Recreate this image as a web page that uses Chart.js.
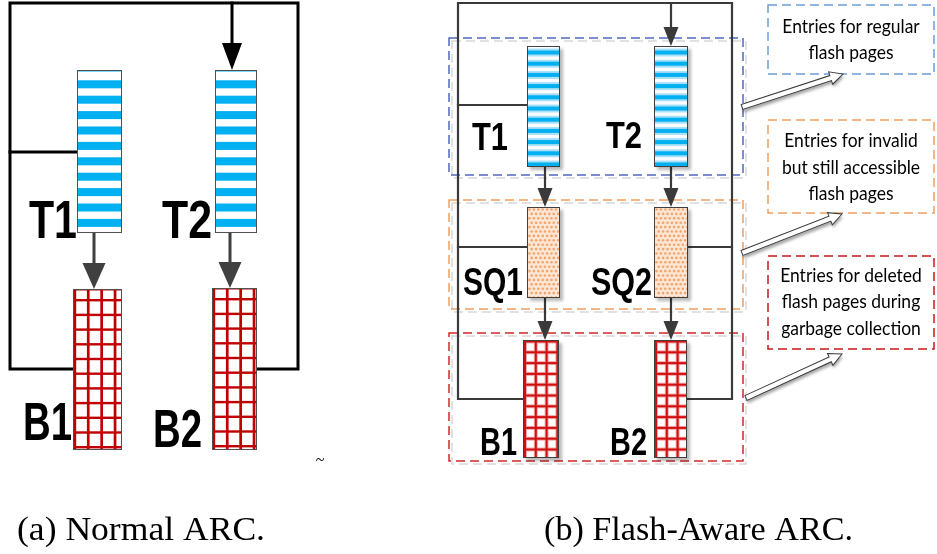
<!DOCTYPE html>
<html>
<head>
<meta charset="utf-8">
<script src="https://cdn.jsdelivr.net/npm/chart.js@4/dist/chart.umd.min.js"></script>
<style>
  html, body { margin: 0; padding: 0; background: #ffffff; }
  #wrap { position: relative; width: 937px; height: 554px; }
</style>
</head>
<body>
<div id="wrap"><canvas id="c"></canvas></div>
<script>
// ---------------- DATA (diagram content) ----------------
const captions = ['(a) Normal ARC.', '(b) Flash-Aware ARC.'];
const captionBoxes = [[17, 517, 265, 540], [544, 517, 853, 540]];

// queue labels: text, and [x0, capTop, x1, baseline]
const labelsA = ['T1', 'T2', 'B1', 'B2'];
const labelBoxesA = [[29, 200, 77, 238], [162, 200, 212, 238], [23, 401, 72, 440], [153, 408, 202, 447]];
const labelsB = ['T1', 'T2', 'SQ1', 'SQ2', 'B1', 'B2'];
const labelBoxesB = [[472, 122, 508, 150], [606, 121, 642, 148], [463, 267, 523, 295], [591, 267, 652, 295], [480, 427, 517, 455], [610, 427, 647, 455]];

// queue boxes [x0, y0, x1, y1] and fill kinds
const queueKindsA = ['stripe', 'stripe', 'grid', 'grid'];
const queueBoxesA = [[77, 70, 122, 233], [215, 70, 257, 233], [73, 289, 122, 450], [212, 288, 257, 450]];
const queueKindsB = ['stripe', 'stripe', 'dots', 'dots', 'grid', 'grid'];
const queueBoxesB = [[527, 46, 560, 167], [654, 46, 688, 167], [527, 207, 560, 298], [654, 207, 688, 298], [523, 340, 559, 458], [654, 340, 687, 458]];

// connector polylines
const linesA = [
  [[73, 369], [10, 369], [10, 3], [298, 3], [298, 369], [257, 369]],
  [[10, 152], [77, 152]]
];
const flowLinesA = [
  [[232, 3], [232, 50]]
];
const dropLinesA = [
  [[94, 233], [94, 266]],
  [[230, 233], [230, 266]]
];
const linesB = [
  [[523, 399], [458, 399], [458, 3], [732, 3], [732, 399], [687, 399]],
  [[458, 105], [527, 105]],
  [[458, 247], [527, 247]],
  [[688, 247], [732, 247]],
  [[671, 3], [671, 30]],
  [[545, 167], [545, 192]],
  [[671, 167], [671, 192]],
  [[545, 298], [545, 325]],
  [[671, 298], [671, 325]]
];
// arrow heads: tip [x, y], width, height
const headsA = [[232, 70, 20, 27], [94, 289, 23, 26], [230, 288, 23, 26]];
const headKindsA = ['black', 'gray', 'gray'];
const headsB = [[671, 46, 15, 19], [545, 207, 15, 19], [671, 207, 15, 19], [545, 340, 15, 19], [671, 340, 15, 19]];

// dashed group regions (panel b)
const regionNames = ['regular', 'invalid', 'deleted'];
const regionBoxes = [[449, 38, 743, 175], [449, 200, 743, 309], [449, 333, 743, 461]];

// note boxes + texts
const noteBoxes = [[768, 5, 934, 74], [768, 120, 934, 213], [768, 256, 934, 349]];
const noteTexts = [
  ['Entries for regular', 'flash pages'],
  ['Entries for invalid', 'but still accessible', 'flash pages'],
  ['Entries for deleted', 'flash pages during', 'garbage collection']
];
const noteBaselines = [[33, 59], [147, 174, 200], [282, 308, 335]];
// hollow pointer arrows: from [x,y] to [x,y]
const pointers = [[[742, 107], [843, 74]], [[742, 253], [842, 214]], [[746, 398], [842, 354]]];

// ---------------- STYLE ----------------
const regionColors = ['#5068c0', '#f0a060', '#d02828'];
const noteColors = ['#6a9fd8', '#f0a060', '#c81818'];

function toXY(poly) { return poly.map(p => ({ x: p[0], y: p[1] })); }
function lineDs(poly, color, width) {
  return { type: 'scatter', data: toXY(poly), showLine: true, borderColor: color, borderWidth: width,
           pointRadius: 0, fill: false, tension: 0, clip: false, borderCapStyle: 'square', borderJoinStyle: 'miter' };
}

const datasets = [];
linesA.forEach(p => datasets.push(lineDs(p, '#000000', 3)));
flowLinesA.forEach(p => datasets.push(lineDs(p, '#000000', 3)));
dropLinesA.forEach(p => datasets.push(lineDs(p, '#404040', 3)));
linesB.forEach(p => datasets.push(lineDs(p, '#3a3a3a', 2.2)));

function makeCtxHelpers(chart) {
  const xs = chart.scales.x, ys = chart.scales.y;
  return { X: v => xs.getPixelForValue(v), Y: v => ys.getPixelForValue(v) };
}

function drawStripes(ctx, x0, y0, x1, y1, fine) {
  ctx.fillStyle = '#ffffff';
  ctx.fillRect(x0, y0, x1 - x0, y1 - y0);
  ctx.save();
  ctx.beginPath(); ctx.rect(x0, y0, x1 - x0, y1 - y0); ctx.clip();
  if (!fine) {
    ctx.fillStyle = '#00b0f0';
    ctx.fillRect(x0, y0, x1 - x0, 1.5);
    for (let y = y0 + 10.3; y < y1 - 2; y += 15.4) ctx.fillRect(x0, y, x1 - x0, 8);
  } else {
    for (let y = y0 + 4; y < y1; y += 11.2) {
      ctx.fillStyle = '#a8e0f7';
      ctx.fillRect(x0, y - 1.5, x1 - x0, 8);
      ctx.fillStyle = '#00b0f0';
      ctx.fillRect(x0, y + 0.5, x1 - x0, 4);
    }
  }
  ctx.restore();
}
function drawGrid(ctx, x0, y0, x1, y1, fine) {
  ctx.fillStyle = '#ffffff';
  ctx.fillRect(x0, y0, x1 - x0, y1 - y0);
  ctx.save();
  ctx.beginPath(); ctx.rect(x0, y0, x1 - x0, y1 - y0); ctx.clip();
  if (!fine) {
    ctx.fillStyle = '#c00000';
    for (let x = x0 + 0.5; x < x1 - 4; x += 13.4) ctx.fillRect(x, y0, 2.7, y1 - y0);
    ctx.fillRect(x0, y0, x1 - x0, 1.5);
    for (let y = y0 + 10; y < y1 - 2; y += 14.7) ctx.fillRect(x0, y, x1 - x0, 2.4);
  } else {
    const vx = [], hy = [];
    for (let x = x0 + 1; x < x1; x += 10.8) vx.push(x);
    for (let y = y0 + 0.5; y < y1; y += 10.8) hy.push(y);
    ctx.fillStyle = '#f2a8a8';
    vx.forEach(x => ctx.fillRect(x - 1, y0, 4, y1 - y0));
    hy.forEach(y => ctx.fillRect(x0, y - 1, x1 - x0, 4));
    ctx.fillStyle = '#d01010';
    vx.forEach(x => ctx.fillRect(x, y0, 2, y1 - y0));
    hy.forEach(y => ctx.fillRect(x0, y, x1 - x0, 2));
  }
  ctx.restore();
}
function drawDots(ctx, x0, y0, x1, y1) {
  ctx.fillStyle = '#fde6d4';
  ctx.fillRect(x0, y0, x1 - x0, y1 - y0);
  ctx.save();
  ctx.beginPath(); ctx.rect(x0, y0, x1 - x0, y1 - y0); ctx.clip();
  ctx.fillStyle = '#f2a56e';
  let row = 0;
  for (let y = y0 + 2.5; y < y1; y += 4.4, row++) {
    for (let x = x0 + 2.5 + (row % 2 ? 2.2 : 0); x < x1; x += 4.4) {
      ctx.beginPath(); ctx.arc(x, y, 1.3, 0, Math.PI * 2); ctx.fill();
    }
  }
  ctx.restore();
}
function fitText(ctx, text, x0, yTop, x1, yBase, family, weight, capRatio) {
  const size = (yBase - yTop) / capRatio;
  ctx.font = weight + ' ' + size + 'px ' + family;
  const w = ctx.measureText(text).width;
  ctx.save();
  ctx.translate(x0, yBase);
  ctx.scale((x1 - x0) / w, 1);
  ctx.textAlign = 'left'; ctx.textBaseline = 'alphabetic';
  ctx.fillText(text, 0, 0);
  ctx.restore();
}
function head(ctx, tx, ty, w, h, color) {
  ctx.fillStyle = color;
  ctx.beginPath();
  ctx.moveTo(tx, ty);
  ctx.lineTo(tx - w / 2, ty - h);
  ctx.lineTo(tx + w / 2, ty - h);
  ctx.closePath();
  ctx.fill();
}
function hollowArrow(ctx, a, b) {
  const dx = b[0] - a[0], dy = b[1] - a[1];
  const L = Math.hypot(dx, dy);
  const ang = Math.atan2(dy, dx);
  ctx.save();
  ctx.translate(a[0], a[1]);
  ctx.rotate(ang);
  const hw = 2.6, hl = 13, hh = 6.5;
  ctx.beginPath();
  ctx.moveTo(0, -hw);
  ctx.lineTo(L - hl, -hw);
  ctx.lineTo(L - hl, -hh);
  ctx.lineTo(L, 0);
  ctx.lineTo(L - hl, hh);
  ctx.lineTo(L - hl, hw);
  ctx.lineTo(0, hw);
  ctx.closePath();
  ctx.shadowColor = 'rgba(0,0,0,0.35)';
  ctx.shadowOffsetX = 1; ctx.shadowOffsetY = 3; ctx.shadowBlur = 3;
  ctx.fillStyle = '#ffffff';
  ctx.fill();
  ctx.shadowColor = 'rgba(0,0,0,0)';
  ctx.strokeStyle = '#3a3a3a';
  ctx.lineWidth = 1;
  ctx.stroke();
  ctx.restore();
}

const diagramPlugin = {
  id: 'diagram',
  beforeDatasetsDraw(chart) {
    const ctx = chart.ctx;
    const { X, Y } = makeCtxHelpers(chart);
    ctx.save();
    regionBoxes.forEach((b, i) => {
      const x0 = X(b[0]), y0 = Y(b[1]), x1 = X(b[2]), y1 = Y(b[3]);
      ctx.setLineDash([9, 5]);
      ctx.lineWidth = 1.5;
      ctx.strokeStyle = 'rgba(190,190,190,0.6)';
      ctx.strokeRect(x0 + 3, y0 + 3, x1 - x0, y1 - y0);
      ctx.strokeStyle = regionColors[i];
      ctx.strokeRect(x0, y0, x1 - x0, y1 - y0);
    });
    ctx.setLineDash([]);
    ctx.restore();
  },
  afterDatasetsDraw(chart) {
    const ctx = chart.ctx;
    const { X, Y } = makeCtxHelpers(chart);
    ctx.save();
    queueBoxesA.forEach((b, i) => {
      const x0 = X(b[0]), y0 = Y(b[1]), x1 = X(b[2]), y1 = Y(b[3]);
      if (queueKindsA[i] === 'stripe') drawStripes(ctx, x0, y0, x1, y1, false);
      else drawGrid(ctx, x0, y0, x1, y1, false);
      ctx.strokeStyle = '#505050'; ctx.lineWidth = 1;
      ctx.strokeRect(x0 + 0.5, y0 + 0.5, x1 - x0 - 1, y1 - y0 - 1);
    });
    queueBoxesB.forEach((b, i) => {
      const x0 = X(b[0]), y0 = Y(b[1]), x1 = X(b[2]), y1 = Y(b[3]);
      ctx.save();
      ctx.shadowColor = 'rgba(0,0,0,0.28)';
      ctx.shadowOffsetX = 3; ctx.shadowOffsetY = 3; ctx.shadowBlur = 3;
      ctx.fillStyle = '#ffffff';
      ctx.fillRect(x0, y0, x1 - x0, y1 - y0);
      ctx.restore();
      if (queueKindsB[i] === 'stripe') drawStripes(ctx, x0, y0, x1, y1, true);
      else if (queueKindsB[i] === 'dots') drawDots(ctx, x0, y0, x1, y1);
      else drawGrid(ctx, x0, y0, x1, y1, true);
      ctx.strokeStyle = '#404040'; ctx.lineWidth = 1;
      ctx.strokeRect(x0 + 0.5, y0 + 0.5, x1 - x0 - 1, y1 - y0 - 1);
    });
    headsA.forEach((h, i) => head(ctx, X(h[0]), Y(h[1]), h[2], h[3], headKindsA[i] === 'black' ? '#000000' : '#404040'));
    headsB.forEach(h => head(ctx, X(h[0]), Y(h[1]), h[2], h[3], '#3a3a3a'));
    ctx.fillStyle = '#000000';
    const bold = '"Liberation Sans", Arial, sans-serif';
    labelsA.forEach((t, i) => { const b = labelBoxesA[i]; fitText(ctx, t, X(b[0]), Y(b[1]), X(b[2]), Y(b[3]), bold, 'bold', 0.716); });
    labelsB.forEach((t, i) => { const b = labelBoxesB[i]; fitText(ctx, t, X(b[0]), Y(b[1]), X(b[2]), Y(b[3]), bold, 'bold', 0.716); });
    noteBoxes.forEach((b, i) => {
      const x0 = X(b[0]), y0 = Y(b[1]), x1 = X(b[2]), y1 = Y(b[3]);
      ctx.setLineDash([9, 5]);
      ctx.lineWidth = 1.5;
      ctx.strokeStyle = noteColors[i];
      ctx.strokeRect(x0, y0, x1 - x0, y1 - y0);
      ctx.setLineDash([]);
      ctx.fillStyle = '#000000';
      ctx.font = '19px Lato, "Open Sans", sans-serif';
      ctx.textAlign = 'center'; ctx.textBaseline = 'alphabetic';
      const cx = (x0 + x1) / 2;
      noteTexts[i].forEach((line, k) => {
        ctx.save();
        ctx.translate(cx, Y(noteBaselines[i][k]));
        ctx.scale(0.92, 1);
        ctx.fillText(line, 0, 0);
        ctx.restore();
      });
    });
    pointers.forEach(p => hollowArrow(ctx, [X(p[0][0]), Y(p[0][1])], [X(p[1][0]), Y(p[1][1])]));
    ctx.fillStyle = '#000000';
    ctx.font = '16px "Liberation Serif", serif';
    ctx.textAlign = 'center';
    ctx.fillText('~', X(320), Y(465));
    const serif = '"Liberation Serif", "DejaVu Serif", serif';
    captions.forEach((t, i) => { const b = captionBoxes[i]; fitText(ctx, t, X(b[0]), Y(b[1]), X(b[2]), Y(b[3]), serif, 'normal', 0.662); });
    ctx.restore();
  }
};

new Chart(document.getElementById('c'), {
  type: 'scatter',
  data: { datasets },
  options: {
    responsive: true,
    maintainAspectRatio: false,
    animation: false,
    layout: { padding: 0 },
    plugins: { legend: { display: false }, tooltip: { enabled: false } },
    scales: {
      x: { type: 'linear', min: 0, max: 937, display: false },
      y: { type: 'linear', min: 0, max: 554, reverse: true, display: false }
    }
  },
  plugins: [diagramPlugin]
});
</script>
</body>
</html>
